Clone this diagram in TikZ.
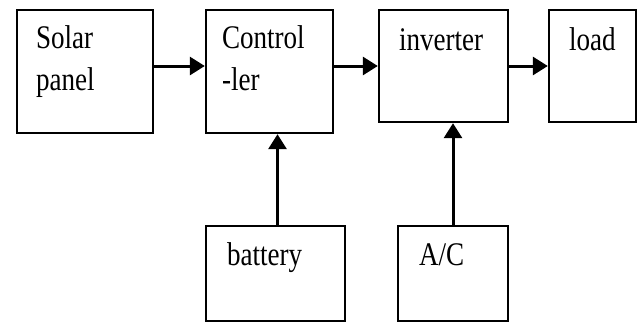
\documentclass[tikz,border=0pt]{standalone}
\usepackage{fontspec}
\setmainfont{Liberation Serif}[FakeStretch=0.82]
\usepackage{tikz}
\usetikzlibrary{arrows.meta}

\begin{document}
\begin{tikzpicture}[x=1pt,y=-1pt,>={Triangle[length=15pt,width=18pt]},
  blockbox/.style={draw,line width=2.4pt,inner sep=0pt},
  blocktext/.style={anchor=base west,inner sep=0pt,align=left,
    font=\fontsize{33}{42}\selectfont},
  flow/.style={->,line width=3pt}]
  \useasboundingbox (0,0) rectangle (640,322);
  % blocks
  \node[blockbox,minimum width=136pt,minimum height=123pt] (solar) at (85,71.5) {};
  \node[blockbox,minimum width=127pt,minimum height=123pt] (ctrl) at (269.5,71.5) {};
  \node[blockbox,minimum width=129pt,minimum height=112pt] (inv) at (443.5,66) {};
  \node[blockbox,minimum width=87pt,minimum height=112pt] (load) at (592.5,66) {};
  \node[blockbox,minimum width=139pt,minimum height=95pt] (batt) at (275.5,273.5) {};
  \node[blockbox,minimum width=110pt,minimum height=95pt] (ac) at (453,273.5) {};
  % texts (base = last line)
  \node[blocktext] (solartxt) at ([shift={(20,82)}]solar.north west) {Solar\\panel};
  \node[blocktext] (ctrltxt) at ([shift={(17,82)}]ctrl.north west) {Control\\-ler};
  \node[blocktext] (invtxt) at ([shift={(21,42)}]inv.north west) {inverter};
  \node[blocktext] (loadtxt) at ([shift={(21,42)}]load.north west) {load};
  \node[blocktext] (batttxt) at ([shift={(22,41)}]batt.north west) {battery};
  \node[blocktext] (actxt) at ([shift={(22,41)}]ac.north west) {A/C};
  % connections
  \draw[flow] (solar.east |- inv.west) -- (ctrl.west |- inv.west);
  \draw[flow] (ctrl.east |- inv.west) -- (inv.west);
  \draw[flow] (inv.east) -- (load.west);
  \draw[flow] ([xshift=2pt]batt.north) -- ([xshift=2pt]batt.north |- ctrl.south);
  \draw[flow] (ac.north) -- (ac.north |- inv.south);
\end{tikzpicture}
\end{document}
